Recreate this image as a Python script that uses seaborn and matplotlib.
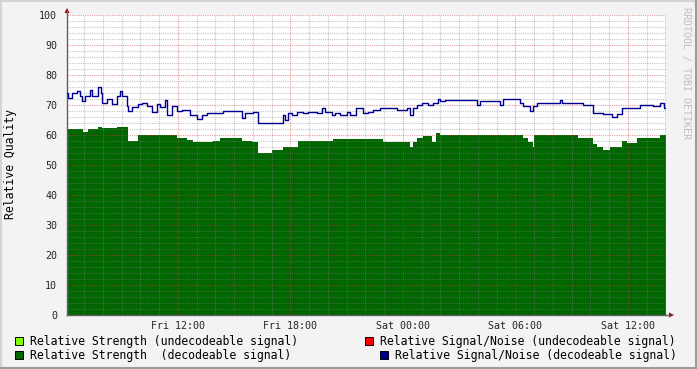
import numpy as np
import pandas as pd
import seaborn as sns
import matplotlib
matplotlib.use("Agg")
import matplotlib.pyplot as plt
from matplotlib.patches import Rectangle, Polygon
from matplotlib.lines import Line2D

# ---------------- data (time in hours since Fri 00:00) ----------------
t_strength = [6.08, 6.95, 7.22, 7.75, 7.93, 8.73, 9.35, 9.88, 11.93, 12.46,
              12.82, 13.88, 14.24, 15.40, 15.93, 16.28, 17.00, 17.62, 18.42, 20.28,
              22.95, 24.37, 24.55, 24.73, 25.08, 25.53, 25.76, 25.97, 30.42, 30.68,
              30.92, 30.99, 33.35, 34.15, 34.33, 34.68, 35.04, 35.66, 35.93, 36.46,
              37.71]
v_strength = [61.9, 61.1, 61.9, 62.8, 62.2, 62.8, 58.1, 60.0, 58.9, 58.3,
              57.8, 58.1, 58.9, 58.1, 57.8, 54.1, 55.0, 55.9, 58.1, 58.6,
              57.8, 56.1, 57.8, 58.9, 59.7, 57.8, 60.6, 60.0, 58.9, 57.8,
              56.1, 60.0, 58.9, 57.0, 56.1, 55.0, 55.9, 58.1, 57.2, 58.9,
              60.0]

t_snr = [6.08, 6.15, 6.33, 6.60, 6.77, 6.86, 7.04, 7.31, 7.40, 7.75,
         7.88, 7.93, 8.20, 8.46, 8.73, 8.91, 9.00, 9.26, 9.35, 9.53,
         9.88, 10.06, 10.36, 10.60, 10.86, 11.04, 11.31, 11.40, 11.66, 11.93,
         12.20, 12.64, 13.00, 13.26, 13.53, 14.42, 15.40, 15.57, 16.02, 16.28,
         17.58, 17.71, 17.88, 18.06, 18.33, 18.68, 18.95, 19.40, 19.66, 19.84,
         20.20, 20.37, 20.64, 21.00, 21.17, 21.49, 21.88, 22.15, 22.42, 22.77,
         23.66, 24.20, 24.37, 24.55, 24.73, 25.00, 25.35, 25.62, 25.88, 25.97,
         26.24, 27.93, 28.11, 29.17, 29.35, 30.24, 30.42, 30.77, 30.95, 31.13,
         31.48, 32.37, 32.46, 33.62, 34.15, 34.68, 35.13, 35.40, 35.66, 36.64,
         37.35, 37.71, 37.92]
v_snr = [74.0, 72.3, 74.0, 74.8, 73.0, 71.4, 73.0, 75.0, 73.0, 75.9,
         74.0, 70.8, 72.0, 70.3, 73.0, 74.8, 73.0, 69.7, 68.1, 69.2,
         70.3, 70.8, 69.7, 67.8, 70.3, 69.4, 71.7, 66.7, 69.7, 68.1,
         68.3, 66.7, 65.2, 66.7, 67.2, 68.1, 65.6, 67.2, 67.8, 63.9,
         66.7, 65.0, 67.5, 66.7, 67.8, 67.2, 67.8, 67.2, 68.9, 67.8,
         66.7, 67.5, 66.7, 67.8, 66.7, 68.9, 67.5, 67.8, 68.3, 68.9,
         68.3, 68.9, 66.7, 68.9, 70.0, 70.8, 70.0, 70.8, 71.9, 71.4,
         71.7, 70.0, 71.4, 70.0, 71.9, 70.8, 69.7, 68.1, 69.7, 70.8,
         70.6, 71.7, 70.8, 70.0, 67.5, 67.0, 66.1, 67.0, 68.9, 70.0,
         69.7, 70.6, 68.9]

t_end = 38.03
x_ticks = [12, 18, 24, 30, 36]
x_ticklabels = ["Fri 12:00", "Fri 18:00", "Sat 00:00", "Sat 06:00", "Sat 12:00"]
y_ticks = [0, 10, 20, 30, 40, 50, 60, 70, 80, 90, 100]

legend_labels = ["Relative Strength (undecodeable signal)",
                 "Relative Signal/Noise (undecodeable signal)",
                 "Relative Strength  (decodeable signal)",
                 "Relative Signal/Noise (decodeable signal)"]
legend_colors = ["#80FF00", "#FF0000", "#006600", "#000090"]

# ---------------- figure ----------------
sns.set_style("white")
plt.rcParams['font.family'] = ['DejaVu Sans Mono']

W, H = 697, 369
fig = plt.figure(figsize=(W / 100, H / 100), dpi=100, facecolor='#F3F3F3')


def fx(px):
    return px / W


def fy(py):
    return 1 - py / H


ax = fig.add_axes([fx(67), fy(315), fx(666) - fx(67), fy(15) - fy(315)])
ax.set_facecolor('white')

ts = np.array(t_strength + [t_end])
vs = np.array(v_strength + [v_strength[-1]])
ax.fill_between(ts, vs, step='post', color=legend_colors[2], lw=0, zorder=1)

df_snr = pd.DataFrame({'time': t_snr + [t_end], 'value': v_snr + [v_snr[-1]]})
sns.lineplot(data=df_snr, x='time', y='value', drawstyle='steps-post',
             color=legend_colors[3], lw=1.0, estimator=None, ax=ax, zorder=3)

ax.set_xlim(t_strength[0], t_end)
ax.set_ylim(0, 100)
ax.set_xlabel('')
ax.set_ylabel('')

ax.set_xticks(x_ticks)
ax.set_xticklabels(x_ticklabels, fontsize=7.2)
ax.set_xticks(np.arange(7, 39, 1), minor=True)
ax.set_yticks(y_ticks)
ax.set_yticklabels([str(v) for v in y_ticks], fontsize=7.2)
ax.set_yticks(np.arange(0, 101, 2), minor=True)
ax.tick_params(which='major', length=2, width=0.8, color='#D07070', direction='out')
ax.tick_params(which='minor', length=2, width=0.8, color='#A8A8A8', direction='out')
ax.tick_params(axis='y', which='major', pad=5.0)
ax.tick_params(axis='x', which='major', pad=2.2)

ax.grid(which='minor', color='#808080', alpha=0.45, ls=(0, (1, 1)), lw=0.8)
ax.grid(which='major', color='#C84040', alpha=0.5, ls=(0, (1, 1)), lw=0.8)
ax.set_axisbelow(False)

for s in ['top', 'right']:
    ax.spines[s].set_visible(False)
for s in ['left', 'bottom']:
    ax.spines[s].set_color('#606060')
    ax.spines[s].set_linewidth(1.0)

# axis extensions and arrows
fig.add_artist(Line2D([fx(67), fx(67)], [fy(15), fy(11)], color='#606060', lw=1.0))
fig.add_artist(Line2D([fx(666), fx(670)], [fy(315), fy(315)], color='#606060', lw=1.0))
fig.add_artist(Polygon([(fx(64.5), fy(13)), (fx(69.5), fy(13)), (fx(67), fy(8))],
                       closed=True, facecolor='#A00000', edgecolor='none'))
fig.add_artist(Polygon([(fx(669), fy(312.5)), (fx(669), fy(317.5)), (fx(674), fy(315))],
                       closed=True, facecolor='#A00000', edgecolor='none'))

# y label
fig.text(fx(11), fy(164), 'Relative Quality', rotation=90, ha='center', va='center',
         fontsize=8.3, color='black')

# watermark
fig.text(fx(686), fy(73), 'RRDTOOL / TOBI OETIKER', rotation=270, ha='center',
         va='center', fontsize=7.2, color='#BEBEBE')

# legend
leg_pos = [(15, 341, 30), (365, 341, 380), (15, 355, 30), (380, 355, 395)]
for (sx, cy, tx), lab, col in zip(leg_pos, legend_labels, legend_colors):
    fig.add_artist(Rectangle((fx(sx), fy(cy + 4)), 8 / W, 8 / H,
                             transform=fig.transFigure, facecolor=col,
                             edgecolor='black', lw=0.7))
    fig.text(fx(tx), fy(cy), lab, ha='left', va='center', fontsize=8.3, color='black')

# image border
fig.add_artist(Line2D([0, 1], [fy(0.5), fy(0.5)], color='#D4D4D4', lw=1.5))
fig.add_artist(Line2D([fx(0.5), fx(0.5)], [0, 1], color='#D4D4D4', lw=1.5))
fig.add_artist(Line2D([0, 1], [fy(368), fy(368)], color='#9C9C9C', lw=1.5))
fig.add_artist(Line2D([fx(696), fx(696)], [0, 1], color='#9C9C9C', lw=1.5))

fig.savefig('out.png', dpi=100, facecolor=fig.get_facecolor())
